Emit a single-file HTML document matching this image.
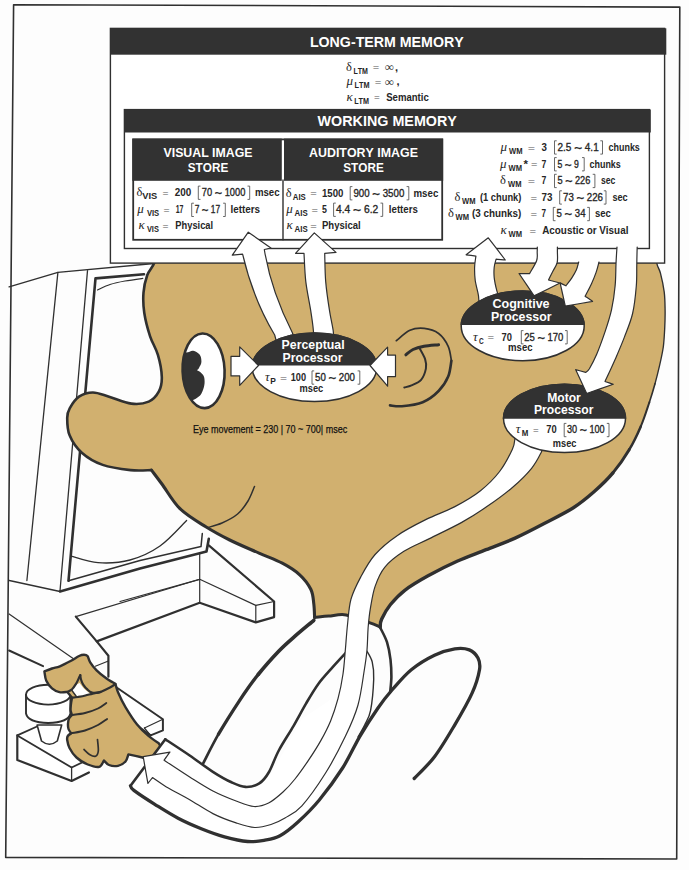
<!DOCTYPE html>
<html><head><meta charset="utf-8"><style>
html,body{margin:0;padding:0;background:#fdfdfd;}
svg{display:block;}
text{font-kerning:none;}
</style></head><body>
<svg width="689" height="870" viewBox="0 0 689 870">
<rect x="0" y="0" width="689" height="870" fill="#fdfdfd"/>
<path d="M13.6,4.7 L679.8,7.1 L676.7,859.0 L5.7,857.4 Z" fill="none" stroke="#303030" stroke-width="1.6" stroke-linejoin="round" stroke-linecap="round" />
<path d="M9.1,286.9 L57.9,272.4 L154.0,263.5" fill="none" stroke="#303030" stroke-width="1.4" stroke-linejoin="round" stroke-linecap="round" />
<path d="M57.9,272.4 L26.9,580.5" fill="none" stroke="#303030" stroke-width="1.3" stroke-linejoin="round" stroke-linecap="round" />
<path d="M87.5,270.6 L60.0,591.0" fill="none" stroke="#303030" stroke-width="1.3" stroke-linejoin="round" stroke-linecap="round" />
<path d="M9.3,580.5 L60.0,591.5" fill="none" stroke="#303030" stroke-width="1.3" stroke-linejoin="round" stroke-linecap="round" />
<path d="M144.0,274.3 L95.5,278.4 L68.5,580.8" fill="none" stroke="#303030" stroke-width="2.6" stroke-linejoin="round" stroke-linecap="round" />
<path d="M97.5,290.0 C99.6,289.1 105.4,286.0 110.0,284.5 C114.6,283.0 119.5,282.0 125.0,281.0 C130.5,280.0 139.8,278.8 142.8,278.4" fill="none" stroke="#303030" stroke-width="1.2" stroke-linejoin="round" stroke-linecap="round" />
<path d="M60.0,591.5 L140.0,568.5 L206.5,551.5 L208.8,538.8" fill="none" stroke="#303030" stroke-width="2.6" stroke-linejoin="round" stroke-linecap="round" />
<path d="M68.5,580.8 L140.0,560.5 L201.0,546.6 L202.3,533.6" fill="none" stroke="#303030" stroke-width="1.5" stroke-linejoin="round" stroke-linecap="round" />
<path d="M71.2,556.1 C75.7,557.2 88.2,562.1 98.0,562.7 C107.8,563.4 119.7,562.8 130.0,560.0 C140.3,557.2 150.6,552.6 160.0,546.0 C169.4,539.4 182.2,524.8 186.6,520.5" fill="none" stroke="#303030" stroke-width="1.3" stroke-linejoin="round" stroke-linecap="round" />
<path d="M208.8,545.3 L274.1,601.5 L274.1,617.1 L255.8,622.4 L199.7,602.8" fill="none" stroke="#303030" stroke-width="2.2" stroke-linejoin="round" stroke-linecap="round" />
<path d="M199.7,553.0 L199.7,602.8" fill="none" stroke="#303030" stroke-width="1.2" stroke-linejoin="round" stroke-linecap="round" />
<path d="M199.7,579.3 L255.8,605.4 L274.1,601.5" fill="none" stroke="#303030" stroke-width="1.2" stroke-linejoin="round" stroke-linecap="round" />
<path d="M255.8,605.4 L255.8,622.4" fill="none" stroke="#303030" stroke-width="1.2" stroke-linejoin="round" stroke-linecap="round" />
<path d="M120.0,601.5 L199.7,579.3" fill="none" stroke="#303030" stroke-width="1.2" stroke-linejoin="round" stroke-linecap="round" />
<path d="M199.7,602.8 L96.7,641.4" fill="none" stroke="#303030" stroke-width="2.2" stroke-linejoin="round" stroke-linecap="round" />
<path d="M75.8,616.6 L199.7,579.3" fill="none" stroke="#303030" stroke-width="1.2" stroke-linejoin="round" stroke-linecap="round" />
<path d="M75.8,616.6 L96.7,641.4 L108.4,655.8 L108.4,676.7" fill="none" stroke="#303030" stroke-width="2.2" stroke-linejoin="round" stroke-linecap="round" />
<path d="M95.3,666.2 L108.4,661.0" fill="none" stroke="#303030" stroke-width="1.2" stroke-linejoin="round" stroke-linecap="round" />
<path d="M9.1,614.0 L73.1,658.4" fill="none" stroke="#303030" stroke-width="1.2" stroke-linejoin="round" stroke-linecap="round" />
<path d="M9.1,650.5 L43.1,666.2" fill="none" stroke="#303030" stroke-width="2.0" stroke-linejoin="round" stroke-linecap="round" />
<path d="M17.3,735.4 L37.0,726.5 L95.0,740.0 L88.4,759.5 L88.9,772.4 L71.6,781.0 L17.3,760.0 Z" fill="#fff" stroke="none" stroke-width="0" stroke-linejoin="round" stroke-linecap="round" />
<path d="M37.0,726.5 L17.3,735.4 L71.6,767.5 L88.4,759.5" fill="none" stroke="#303030" stroke-width="1.8" stroke-linejoin="round" stroke-linecap="round" />
<path d="M17.3,735.4 L17.3,760.0 L71.6,781.0 L88.9,772.4" fill="none" stroke="#303030" stroke-width="2.2" stroke-linejoin="round" stroke-linecap="round" />
<path d="M71.6,767.5 L71.6,781.0" fill="none" stroke="#303030" stroke-width="1.3" stroke-linejoin="round" stroke-linecap="round" />
<path d="M37.1,725 L41.5,741 Q49.4,747.5 57.3,741 L61.7,725 Z" fill="#fff" stroke="#303030" stroke-width="1.6" stroke-linejoin="round" stroke-linecap="round" />
<path d="M26,694.7 L26,713.5 Q28,722.5 48.2,723 Q68.5,722.5 70.4,713.5 L70.4,694.7" fill="#fff" stroke="#303030" stroke-width="1.9" stroke-linejoin="round" stroke-linecap="round" />
<path d="M26,694.7 A22.2,9.9 0 1,0 70.4,694.7 A22.2,9.9 0 1,0 26,694.7 Z" fill="#fff" stroke="#303030" stroke-width="1.9" stroke-linejoin="round" stroke-linecap="round" />
<path d="M112.3,684.5 L162.9,719.3 L162.9,730.4 L150.6,735.4 L118.0,712.0 Z" fill="#fff" stroke="#303030" stroke-width="2.0" stroke-linejoin="round" stroke-linecap="round" />
<path d="M144.4,728.0 L162.9,719.3" fill="none" stroke="#303030" stroke-width="1.2" stroke-linejoin="round" stroke-linecap="round" />
<path d="M144.4,728.0 L150.6,735.4" fill="none" stroke="#303030" stroke-width="1.2" stroke-linejoin="round" stroke-linecap="round" />
<path d="M160.0,240.0 C159.1,243.7 156.6,256.4 154.5,262.3 C152.4,268.2 149.0,270.2 147.2,275.3 C145.4,280.4 144.0,286.4 143.5,292.7 C143.0,299.0 143.2,305.7 144.3,313.0 C145.4,320.3 147.8,329.3 150.1,336.3 C152.4,343.3 155.9,348.1 157.9,354.9 C159.9,361.7 161.6,370.8 161.8,376.9 C162.0,383.0 161.1,387.3 158.9,391.4 C156.7,395.5 153.3,399.6 148.7,401.6 C144.1,403.6 137.9,404.4 131.3,403.6 C124.7,402.8 115.5,398.6 109.1,396.7 C102.7,394.8 97.9,392.5 92.9,392.5 C87.9,392.5 82.9,394.1 79.0,396.7 C75.1,399.3 71.7,404.8 69.7,408.3 C67.7,411.8 67.2,413.4 67.2,417.9 C67.2,422.4 67.2,429.5 69.6,435.3 C72.0,441.1 76.3,447.8 81.8,452.7 C87.3,457.6 94.6,462.0 102.7,464.9 C110.8,467.8 122.5,469.2 130.6,470.1 C138.7,471.0 148.0,470.1 151.5,470.1 C153.2,472.4 157.2,477.6 161.9,484.0 C166.7,490.4 172.6,501.5 180.0,508.7 C187.4,515.9 197.9,521.8 206.2,527.0 C214.5,532.2 220.9,535.6 229.7,540.0 C238.5,544.4 250.2,549.2 259.0,553.1 C267.8,557.0 275.5,559.6 282.3,563.2 C289.1,566.8 294.9,570.4 299.7,574.8 C304.4,579.1 308.4,584.4 310.8,589.3 C313.2,594.1 313.2,599.2 313.8,603.9 C314.4,608.6 314.5,615.2 314.6,617.5 C317.0,617.3 323.4,616.5 328.7,616.1 C333.9,615.7 339.3,613.8 346.1,614.9 C352.9,616.0 363.6,620.7 369.3,622.7 C375.0,624.7 378.4,626.3 380.2,627.0 C380.4,625.7 379.9,623.0 381.6,619.3 C383.3,615.6 386.4,609.6 390.3,604.8 C394.2,600.0 398.5,595.1 404.8,590.3 C411.1,585.5 419.4,580.6 428.1,575.8 C436.8,571.0 447.4,565.6 457.1,561.3 C466.8,556.9 476.4,553.6 486.1,549.7 C495.8,545.8 505.4,542.5 515.1,538.1 C524.8,533.7 534.5,528.6 544.2,523.5 C553.9,518.4 565.0,513.0 573.4,507.7 C581.8,502.4 587.7,497.3 594.3,491.5 C600.9,485.7 607.1,479.9 612.9,472.9 C618.7,465.9 624.6,457.4 629.2,449.7 C633.9,441.9 637.4,434.3 640.8,426.4 C644.2,418.5 647.0,409.3 649.4,402.2 C651.8,395.1 653.3,389.9 655.0,383.8 C656.7,377.7 658.2,371.5 659.6,365.4 C661.0,359.3 662.4,353.1 663.3,347.0 C664.1,340.9 664.4,334.7 664.7,328.6 C665.0,322.5 665.2,316.3 665.1,310.2 C665.0,304.1 665.0,297.9 664.2,291.8 C663.4,285.7 661.7,278.1 660.5,273.4 C659.3,268.6 657.9,268.0 656.8,263.3 C655.7,258.6 656.8,249.2 654.0,245.0 C651.2,240.8 642.3,239.2 640.0,238.0 C561.7,238.0 248.3,238.0 170.0,238.0 C168.3,238.3 161.7,239.7 160.0,240.0 Z" fill="#d1b06f" stroke="none" stroke-width="0" stroke-linejoin="round" stroke-linecap="round" />
<path d="M160.0,240.0 C159.1,243.7 156.6,256.4 154.5,262.3 C152.4,268.2 149.0,270.2 147.2,275.3 C145.4,280.4 144.0,286.4 143.5,292.7 C143.0,299.0 143.2,305.7 144.3,313.0 C145.4,320.3 147.8,329.3 150.1,336.3 C152.4,343.3 155.9,348.1 157.9,354.9 C159.9,361.7 161.6,370.8 161.8,376.9 C162.0,383.0 161.1,387.3 158.9,391.4 C156.7,395.5 153.3,399.6 148.7,401.6 C144.1,403.6 137.9,404.4 131.3,403.6 C124.7,402.8 115.5,398.6 109.1,396.7 C102.7,394.8 97.9,392.5 92.9,392.5 C87.9,392.5 82.9,394.1 79.0,396.7 C75.1,399.3 71.7,404.8 69.7,408.3 C67.7,411.8 67.2,413.4 67.2,417.9 C67.2,422.4 67.2,429.5 69.6,435.3 C72.0,441.1 76.3,447.8 81.8,452.7 C87.3,457.6 94.6,462.0 102.7,464.9 C110.8,467.8 122.5,469.2 130.6,470.1 C138.7,471.0 148.0,470.1 151.5,470.1" fill="none" stroke="#303030" stroke-width="2.6" stroke-linejoin="round" stroke-linecap="round" />
<path d="M151.5,470.1 C153.2,472.4 157.2,477.6 161.9,484.0 C166.7,490.4 172.6,501.5 180.0,508.7 C187.4,515.9 197.9,521.8 206.2,527.0 C214.5,532.2 220.9,535.6 229.7,540.0 C238.5,544.4 250.2,549.2 259.0,553.1 C267.8,557.0 275.5,559.6 282.3,563.2 C289.1,566.8 294.9,570.4 299.7,574.8 C304.4,579.1 308.4,584.4 310.8,589.3 C313.2,594.1 313.2,599.2 313.8,603.9 C314.4,608.6 314.5,615.2 314.6,617.5" fill="none" stroke="#303030" stroke-width="3.1" stroke-linejoin="round" stroke-linecap="round" />
<path d="M314.6,617.5 C317.0,617.3 323.4,616.5 328.7,616.1 C333.9,615.7 339.3,613.8 346.1,614.9 C352.9,616.0 363.6,620.7 369.3,622.7 C375.0,624.7 378.4,626.3 380.2,627.0" fill="none" stroke="#303030" stroke-width="3.0" stroke-linejoin="round" stroke-linecap="round" />
<path d="M380.2,627.0 C380.4,625.7 379.9,623.0 381.6,619.3 C383.3,615.6 386.4,609.6 390.3,604.8 C394.2,600.0 398.5,595.1 404.8,590.3 C411.1,585.5 419.4,580.6 428.1,575.8 C436.8,571.0 447.4,565.6 457.1,561.3 C466.8,556.9 476.4,553.6 486.1,549.7 C495.8,545.8 505.4,542.5 515.1,538.1 C524.8,533.7 534.5,528.6 544.2,523.5 C553.9,518.4 565.0,513.0 573.4,507.7 C581.8,502.4 587.7,497.3 594.3,491.5 C600.9,485.7 607.1,479.9 612.9,472.9" fill="none" stroke="#303030" stroke-width="3.4" stroke-linejoin="round" stroke-linecap="round" />
<path d="M612.9,472.9 C618.7,465.9 624.6,457.4 629.2,449.7" fill="none" stroke="#303030" stroke-width="3.0" stroke-linejoin="round" stroke-linecap="round" />
<path d="M629.2,449.7 C633.9,441.9 637.4,434.3 640.8,426.4" fill="none" stroke="#303030" stroke-width="2.5" stroke-linejoin="round" stroke-linecap="round" />
<path d="M640.8,426.4 C644.2,418.5 647.0,409.3 649.4,402.2" fill="none" stroke="#303030" stroke-width="2.0" stroke-linejoin="round" stroke-linecap="round" />
<path d="M649.4,402.2 C651.8,395.1 653.3,389.9 655.0,383.8" fill="none" stroke="#303030" stroke-width="1.6" stroke-linejoin="round" stroke-linecap="round" />
<path d="M655.0,383.8 C656.7,377.7 658.2,371.5 659.6,365.4 C661.0,359.3 662.4,353.1 663.3,347.0 C664.1,340.9 664.4,334.7 664.7,328.6 C665.0,322.5 665.2,316.3 665.1,310.2 C665.0,304.1 665.0,297.9 664.2,291.8 C663.4,285.7 661.7,278.1 660.5,273.4 C659.3,268.6 657.9,268.0 656.8,263.3 C655.7,258.6 656.8,249.2 654.0,245.0" fill="none" stroke="#303030" stroke-width="1.35" stroke-linejoin="round" stroke-linecap="round" />
<path d="M208.0,527.5 C210.3,526.8 217.1,525.2 222.0,523.0 C226.9,520.8 233.3,517.7 237.6,514.0 C241.9,510.3 245.2,505.6 248.0,501.0 C250.8,496.4 253.4,488.9 254.5,486.5" fill="none" stroke="#303030" stroke-width="1.5" stroke-linejoin="round" stroke-linecap="round" />
<rect x="110.4" y="28.4" width="554.2" height="234.7" fill="#fff" stroke="#303030" stroke-width="1.4"/>
<rect x="110.2" y="28.3" width="556.1" height="26.4" fill="#323232"/>
<rect x="124.4" y="109.6" width="525" height="138.9" fill="#fff" stroke="#303030" stroke-width="1.4"/>
<rect x="124.2" y="109.5" width="526.6" height="23.0" fill="#323232"/>
<rect x="133.2" y="139.4" width="309" height="100.4" fill="#fff" stroke="#303030" stroke-width="1.8"/>
<rect x="132.3" y="138.6" width="149.5" height="42.2" fill="#323232"/>
<rect x="284" y="138.6" width="159.2" height="42.2" fill="#323232"/>
<path d="M283.0,180.0 L283.0,239.8" fill="none" stroke="#303030" stroke-width="1.4" stroke-linejoin="round" stroke-linecap="round" />
<text x="309.9" y="46.6" font-family="'Liberation Sans', sans-serif" font-size="14.9" font-weight="bold" font-style="normal" fill="#fff" text-anchor="start" textLength="153.8" lengthAdjust="spacingAndGlyphs" >LONG-TERM MEMORY</text>
<text x="317.6" y="126.0" font-family="'Liberation Sans', sans-serif" font-size="14.9" font-weight="bold" font-style="normal" fill="#fff" text-anchor="start" textLength="139.3" lengthAdjust="spacingAndGlyphs" >WORKING MEMORY</text>
<text x="208.0" y="157.2" font-family="'Liberation Sans', sans-serif" font-size="12.3" font-weight="bold" font-style="normal" fill="#fff" text-anchor="middle" textLength="89.0" lengthAdjust="spacingAndGlyphs" >VISUAL IMAGE</text>
<text x="208.0" y="171.8" font-family="'Liberation Sans', sans-serif" font-size="12.3" font-weight="bold" font-style="normal" fill="#fff" text-anchor="middle" textLength="40.5" lengthAdjust="spacingAndGlyphs" >STORE</text>
<text x="363.5" y="157.2" font-family="'Liberation Sans', sans-serif" font-size="12.3" font-weight="bold" font-style="normal" fill="#fff" text-anchor="middle" textLength="109.0" lengthAdjust="spacingAndGlyphs" >AUDITORY IMAGE</text>
<text x="363.5" y="171.8" font-family="'Liberation Sans', sans-serif" font-size="12.3" font-weight="bold" font-style="normal" fill="#fff" text-anchor="middle" textLength="40.5" lengthAdjust="spacingAndGlyphs" >STORE</text>
<text x="346.1" y="70.6" font-family="'Liberation Serif', serif" font-size="12.5" font-weight="normal" font-style="normal" fill="#262626" text-anchor="start" >δ</text>
<text x="353.4" y="73.6" font-family="'Liberation Sans', sans-serif" font-size="8.2" font-weight="bold" font-style="normal" fill="#262626" text-anchor="start" textLength="14.5" lengthAdjust="spacingAndGlyphs" >LTM</text>
<text x="372.7" y="70.3" font-family="'Liberation Sans', sans-serif" font-size="9.5" font-weight="normal" font-style="normal" fill="#555" text-anchor="start" textLength="6.5" lengthAdjust="spacingAndGlyphs" >=</text>
<text x="384.7" y="71.1" font-family="'Liberation Serif', serif" font-size="12.0" font-weight="normal" font-style="normal" fill="#262626" text-anchor="start" textLength="9.3" lengthAdjust="spacingAndGlyphs" >∞</text>
<text x="395.0" y="70.6" font-family="'Liberation Sans', sans-serif" font-size="11.0" font-weight="bold" font-style="normal" fill="#262626" text-anchor="start" >,</text>
<text x="346.5" y="85.2" font-family="'Liberation Serif', serif" font-size="13.0" font-weight="normal" font-style="italic" fill="#262626" text-anchor="start" >μ</text>
<text x="354.5" y="88.2" font-family="'Liberation Sans', sans-serif" font-size="8.2" font-weight="bold" font-style="normal" fill="#262626" text-anchor="start" textLength="15.0" lengthAdjust="spacingAndGlyphs" >LTM</text>
<text x="374.8" y="84.9" font-family="'Liberation Sans', sans-serif" font-size="9.5" font-weight="normal" font-style="normal" fill="#555" text-anchor="start" textLength="6.6" lengthAdjust="spacingAndGlyphs" >=</text>
<text x="384.7" y="85.7" font-family="'Liberation Serif', serif" font-size="12.0" font-weight="normal" font-style="normal" fill="#262626" text-anchor="start" textLength="9.3" lengthAdjust="spacingAndGlyphs" >∞</text>
<text x="396.4" y="85.2" font-family="'Liberation Sans', sans-serif" font-size="11.0" font-weight="bold" font-style="normal" fill="#262626" text-anchor="start" >,</text>
<text x="346.5" y="100.6" font-family="'Liberation Serif', serif" font-size="13.0" font-weight="normal" font-style="italic" fill="#262626" text-anchor="start" >κ</text>
<text x="354.2" y="103.6" font-family="'Liberation Sans', sans-serif" font-size="8.2" font-weight="bold" font-style="normal" fill="#262626" text-anchor="start" textLength="14.8" lengthAdjust="spacingAndGlyphs" >LTM</text>
<text x="374.1" y="100.3" font-family="'Liberation Sans', sans-serif" font-size="9.5" font-weight="normal" font-style="normal" fill="#555" text-anchor="start" textLength="5.8" lengthAdjust="spacingAndGlyphs" >=</text>
<text x="386.2" y="100.6" font-family="'Liberation Sans', sans-serif" font-size="11.0" font-weight="bold" font-style="normal" fill="#262626" text-anchor="start" textLength="42.6" lengthAdjust="spacingAndGlyphs" >Semantic</text>
<text x="136.5" y="196.1" font-family="'Liberation Serif', serif" font-size="12.5" font-weight="normal" font-style="normal" fill="#262626" text-anchor="start" >δ</text>
<text x="142.3" y="199.1" font-family="'Liberation Sans', sans-serif" font-size="8.2" font-weight="bold" font-style="normal" fill="#262626" text-anchor="start" textLength="15.0" lengthAdjust="spacingAndGlyphs" >VIS</text>
<text x="162.6" y="195.8" font-family="'Liberation Sans', sans-serif" font-size="9.5" font-weight="normal" font-style="normal" fill="#555" text-anchor="start" textLength="6.0" lengthAdjust="spacingAndGlyphs" >=</text>
<text x="174.8" y="196.1" font-family="'Liberation Sans', sans-serif" font-size="11.0" font-weight="bold" font-style="normal" fill="#262626" text-anchor="start" textLength="16.5" lengthAdjust="spacingAndGlyphs" >200</text>
<path d="M200.1,186.1 L198.3,186.1 L198.3,199.4 L200.1,199.4" fill="none" stroke="#444" stroke-width="0.8" stroke-linejoin="round" stroke-linecap="round" stroke-linecap="butt" stroke-linejoin="miter"/>
<text x="201.8" y="196.1" font-family="'Liberation Sans', sans-serif" font-size="11.0" fill="#262626" stroke="#262626" stroke-width="0.35" textLength="43.5" lengthAdjust="spacingAndGlyphs">70 <tspan font-size="15" dy="2.0">~</tspan><tspan dy="-2.0"> 1000</tspan></text>
<path d="M247.9,186.1 L249.7,186.1 L249.7,199.4 L247.9,199.4" fill="none" stroke="#444" stroke-width="0.8" stroke-linejoin="round" stroke-linecap="round" stroke-linecap="butt" stroke-linejoin="miter"/>
<text x="254.9" y="196.1" font-family="'Liberation Sans', sans-serif" font-size="11.0" font-weight="bold" font-style="normal" fill="#262626" text-anchor="start" textLength="24.7" lengthAdjust="spacingAndGlyphs" >msec</text>
<text x="137.3" y="213.2" font-family="'Liberation Serif', serif" font-size="13.0" font-weight="normal" font-style="italic" fill="#262626" text-anchor="start" >μ</text>
<text x="146.9" y="216.2" font-family="'Liberation Sans', sans-serif" font-size="8.2" font-weight="bold" font-style="normal" fill="#262626" text-anchor="start" textLength="12.3" lengthAdjust="spacingAndGlyphs" >VIS</text>
<text x="163.5" y="212.9" font-family="'Liberation Sans', sans-serif" font-size="9.5" font-weight="normal" font-style="normal" fill="#555" text-anchor="start" textLength="6.1" lengthAdjust="spacingAndGlyphs" >=</text>
<text x="175.7" y="213.2" font-family="'Liberation Sans', sans-serif" font-size="11.0" font-weight="bold" font-style="normal" fill="#262626" text-anchor="start" textLength="7.8" lengthAdjust="spacingAndGlyphs" >17</text>
<path d="M193.5,203.2 L191.7,203.2 L191.7,216.5 L193.5,216.5" fill="none" stroke="#444" stroke-width="0.8" stroke-linejoin="round" stroke-linecap="round" stroke-linecap="butt" stroke-linejoin="miter"/>
<text x="194.8" y="213.2" font-family="'Liberation Sans', sans-serif" font-size="11.0" fill="#262626" stroke="#262626" stroke-width="0.35" textLength="25.3" lengthAdjust="spacingAndGlyphs">7 <tspan font-size="15" dy="2.0">~</tspan><tspan dy="-2.0"> 17</tspan></text>
<path d="M223.5,203.2 L225.3,203.2 L225.3,216.5 L223.5,216.5" fill="none" stroke="#444" stroke-width="0.8" stroke-linejoin="round" stroke-linecap="round" stroke-linecap="butt" stroke-linejoin="miter"/>
<text x="230.5" y="213.2" font-family="'Liberation Sans', sans-serif" font-size="11.0" font-weight="bold" font-style="normal" fill="#262626" text-anchor="start" textLength="29.6" lengthAdjust="spacingAndGlyphs" >letters</text>
<text x="138.5" y="228.9" font-family="'Liberation Serif', serif" font-size="13.0" font-weight="normal" font-style="italic" fill="#262626" text-anchor="start" >κ</text>
<text x="146.9" y="231.9" font-family="'Liberation Sans', sans-serif" font-size="8.2" font-weight="bold" font-style="normal" fill="#262626" text-anchor="start" textLength="12.0" lengthAdjust="spacingAndGlyphs" >VIS</text>
<text x="162.6" y="228.6" font-family="'Liberation Sans', sans-serif" font-size="9.5" font-weight="normal" font-style="normal" fill="#555" text-anchor="start" textLength="6.0" lengthAdjust="spacingAndGlyphs" >=</text>
<text x="175.3" y="228.9" font-family="'Liberation Sans', sans-serif" font-size="11.0" font-weight="bold" font-style="normal" fill="#262626" text-anchor="start" textLength="37.8" lengthAdjust="spacingAndGlyphs" >Physical</text>
<text x="285.8" y="196.6" font-family="'Liberation Serif', serif" font-size="12.5" font-weight="normal" font-style="normal" fill="#262626" text-anchor="start" >δ</text>
<text x="292.8" y="199.6" font-family="'Liberation Sans', sans-serif" font-size="8.2" font-weight="bold" font-style="normal" fill="#262626" text-anchor="start" textLength="13.0" lengthAdjust="spacingAndGlyphs" >AIS</text>
<text x="310.3" y="196.3" font-family="'Liberation Sans', sans-serif" font-size="9.5" font-weight="normal" font-style="normal" fill="#555" text-anchor="start" textLength="6.5" lengthAdjust="spacingAndGlyphs" >=</text>
<text x="322.0" y="196.6" font-family="'Liberation Sans', sans-serif" font-size="11.0" font-weight="bold" font-style="normal" fill="#262626" text-anchor="start" textLength="21.4" lengthAdjust="spacingAndGlyphs" >1500</text>
<path d="M352.0,186.6 L350.2,186.6 L350.2,199.9 L352.0,199.9" fill="none" stroke="#444" stroke-width="0.8" stroke-linejoin="round" stroke-linecap="round" stroke-linecap="butt" stroke-linejoin="miter"/>
<text x="353.4" y="196.6" font-family="'Liberation Sans', sans-serif" font-size="11.0" fill="#262626" stroke="#262626" stroke-width="0.35" textLength="50.9" lengthAdjust="spacingAndGlyphs">900 <tspan font-size="15" dy="2.0">~</tspan><tspan dy="-2.0"> 3500</tspan></text>
<path d="M407.0,186.6 L408.8,186.6 L408.8,199.9 L407.0,199.9" fill="none" stroke="#444" stroke-width="0.8" stroke-linejoin="round" stroke-linecap="round" stroke-linecap="butt" stroke-linejoin="miter"/>
<text x="413.5" y="196.6" font-family="'Liberation Sans', sans-serif" font-size="11.0" font-weight="bold" font-style="normal" fill="#262626" text-anchor="start" textLength="24.8" lengthAdjust="spacingAndGlyphs" >msec</text>
<text x="286.3" y="213.1" font-family="'Liberation Serif', serif" font-size="13.0" font-weight="normal" font-style="italic" fill="#262626" text-anchor="start" >μ</text>
<text x="294.6" y="216.1" font-family="'Liberation Sans', sans-serif" font-size="8.2" font-weight="bold" font-style="normal" fill="#262626" text-anchor="start" textLength="13.1" lengthAdjust="spacingAndGlyphs" >AIS</text>
<text x="311.6" y="212.8" font-family="'Liberation Sans', sans-serif" font-size="9.5" font-weight="normal" font-style="normal" fill="#555" text-anchor="start" textLength="6.5" lengthAdjust="spacingAndGlyphs" >=</text>
<text x="322.1" y="213.1" font-family="'Liberation Sans', sans-serif" font-size="11.0" font-weight="bold" font-style="normal" fill="#262626" text-anchor="start" textLength="4.9" lengthAdjust="spacingAndGlyphs" >5</text>
<path d="M335.4,203.1 L333.6,203.1 L333.6,216.4 L335.4,216.4" fill="none" stroke="#444" stroke-width="0.8" stroke-linejoin="round" stroke-linecap="round" stroke-linecap="butt" stroke-linejoin="miter"/>
<text x="336.0" y="213.1" font-family="'Liberation Sans', sans-serif" font-size="11.0" fill="#262626" stroke="#262626" stroke-width="0.35" textLength="42.3" lengthAdjust="spacingAndGlyphs">4.4 <tspan font-size="15" dy="2.0">~</tspan><tspan dy="-2.0"> 6.2</tspan></text>
<path d="M380.9,203.1 L382.7,203.1 L382.7,216.4 L380.9,216.4" fill="none" stroke="#444" stroke-width="0.8" stroke-linejoin="round" stroke-linecap="round" stroke-linecap="butt" stroke-linejoin="miter"/>
<text x="388.8" y="213.1" font-family="'Liberation Sans', sans-serif" font-size="11.0" font-weight="bold" font-style="normal" fill="#262626" text-anchor="start" textLength="29.1" lengthAdjust="spacingAndGlyphs" >letters</text>
<text x="286.5" y="228.8" font-family="'Liberation Serif', serif" font-size="13.0" font-weight="normal" font-style="italic" fill="#262626" text-anchor="start" >κ</text>
<text x="294.6" y="231.8" font-family="'Liberation Sans', sans-serif" font-size="8.2" font-weight="bold" font-style="normal" fill="#262626" text-anchor="start" textLength="13.1" lengthAdjust="spacingAndGlyphs" >AIS</text>
<text x="310.3" y="228.5" font-family="'Liberation Sans', sans-serif" font-size="9.5" font-weight="normal" font-style="normal" fill="#555" text-anchor="start" textLength="6.5" lengthAdjust="spacingAndGlyphs" >=</text>
<text x="322.0" y="228.8" font-family="'Liberation Sans', sans-serif" font-size="11.0" font-weight="bold" font-style="normal" fill="#262626" text-anchor="start" textLength="38.7" lengthAdjust="spacingAndGlyphs" >Physical</text>
<text x="500.5" y="150.8" font-family="'Liberation Serif', serif" font-size="13.0" font-weight="normal" font-style="italic" fill="#262626" text-anchor="start" >μ</text>
<text x="509.0" y="153.8" font-family="'Liberation Sans', sans-serif" font-size="8.2" font-weight="bold" font-style="normal" fill="#262626" text-anchor="start" textLength="13.5" lengthAdjust="spacingAndGlyphs" >WM</text>
<text x="527.8" y="150.5" font-family="'Liberation Sans', sans-serif" font-size="9.5" font-weight="normal" font-style="normal" fill="#555" text-anchor="start" textLength="7.3" lengthAdjust="spacingAndGlyphs" >=</text>
<text x="541.5" y="150.8" font-family="'Liberation Sans', sans-serif" font-size="11.0" font-weight="bold" font-style="normal" fill="#262626" text-anchor="start" textLength="5.4" lengthAdjust="spacingAndGlyphs" >3</text>
<path d="M556.3,140.8 L554.5,140.8 L554.5,154.1 L556.3,154.1" fill="none" stroke="#444" stroke-width="0.8" stroke-linejoin="round" stroke-linecap="round" stroke-linecap="butt" stroke-linejoin="miter"/>
<text x="557.5" y="150.8" font-family="'Liberation Sans', sans-serif" font-size="11.0" fill="#262626" stroke="#262626" stroke-width="0.35" textLength="41.2" lengthAdjust="spacingAndGlyphs">2.5 <tspan font-size="15" dy="2.0">~</tspan><tspan dy="-2.0"> 4.1</tspan></text>
<path d="M600.7,140.8 L602.5,140.8 L602.5,154.1 L600.7,154.1" fill="none" stroke="#444" stroke-width="0.8" stroke-linejoin="round" stroke-linecap="round" stroke-linecap="butt" stroke-linejoin="miter"/>
<text x="608.6" y="150.8" font-family="'Liberation Sans', sans-serif" font-size="11.0" font-weight="bold" font-style="normal" fill="#262626" text-anchor="start" textLength="31.2" lengthAdjust="spacingAndGlyphs" >chunks</text>
<text x="500.0" y="167.6" font-family="'Liberation Serif', serif" font-size="13.0" font-weight="normal" font-style="italic" fill="#262626" text-anchor="start" >μ</text>
<text x="508.5" y="170.6" font-family="'Liberation Sans', sans-serif" font-size="8.2" font-weight="bold" font-style="normal" fill="#262626" text-anchor="start" textLength="13.5" lengthAdjust="spacingAndGlyphs" >WM</text>
<text x="523.5" y="167.6" font-family="'Liberation Sans', sans-serif" font-size="11.0" font-weight="bold" font-style="normal" fill="#262626" text-anchor="start" textLength="4.5" lengthAdjust="spacingAndGlyphs" >*</text>
<text x="531.0" y="167.3" font-family="'Liberation Sans', sans-serif" font-size="9.5" font-weight="normal" font-style="normal" fill="#555" text-anchor="start" textLength="6.4" lengthAdjust="spacingAndGlyphs" >=</text>
<text x="541.5" y="167.6" font-family="'Liberation Sans', sans-serif" font-size="11.0" font-weight="bold" font-style="normal" fill="#262626" text-anchor="start" textLength="4.8" lengthAdjust="spacingAndGlyphs" >7</text>
<path d="M556.3,157.6 L554.5,157.6 L554.5,170.9 L556.3,170.9" fill="none" stroke="#444" stroke-width="0.8" stroke-linejoin="round" stroke-linecap="round" stroke-linecap="butt" stroke-linejoin="miter"/>
<text x="557.5" y="167.6" font-family="'Liberation Sans', sans-serif" font-size="11.0" fill="#262626" stroke="#262626" stroke-width="0.35" textLength="21.4" lengthAdjust="spacingAndGlyphs">5 <tspan font-size="15" dy="2.0">~</tspan><tspan dy="-2.0"> 9</tspan></text>
<path d="M582.4,157.6 L584.2,157.6 L584.2,170.9 L582.4,170.9" fill="none" stroke="#444" stroke-width="0.8" stroke-linejoin="round" stroke-linecap="round" stroke-linecap="butt" stroke-linejoin="miter"/>
<text x="589.5" y="167.6" font-family="'Liberation Sans', sans-serif" font-size="11.0" font-weight="bold" font-style="normal" fill="#262626" text-anchor="start" textLength="31.3" lengthAdjust="spacingAndGlyphs" >chunks</text>
<text x="500.0" y="184.3" font-family="'Liberation Serif', serif" font-size="12.5" font-weight="normal" font-style="normal" fill="#262626" text-anchor="start" >δ</text>
<text x="508.0" y="187.3" font-family="'Liberation Sans', sans-serif" font-size="8.2" font-weight="bold" font-style="normal" fill="#262626" text-anchor="start" textLength="13.5" lengthAdjust="spacingAndGlyphs" >WM</text>
<text x="527.8" y="184.0" font-family="'Liberation Sans', sans-serif" font-size="9.5" font-weight="normal" font-style="normal" fill="#555" text-anchor="start" textLength="7.3" lengthAdjust="spacingAndGlyphs" >=</text>
<text x="541.5" y="184.3" font-family="'Liberation Sans', sans-serif" font-size="11.0" font-weight="bold" font-style="normal" fill="#262626" text-anchor="start" textLength="4.8" lengthAdjust="spacingAndGlyphs" >7</text>
<path d="M556.3,174.3 L554.5,174.3 L554.5,187.6 L556.3,187.6" fill="none" stroke="#444" stroke-width="0.8" stroke-linejoin="round" stroke-linecap="round" stroke-linecap="butt" stroke-linejoin="miter"/>
<text x="557.5" y="184.3" font-family="'Liberation Sans', sans-serif" font-size="11.0" fill="#262626" stroke="#262626" stroke-width="0.35" textLength="32.8" lengthAdjust="spacingAndGlyphs">5 <tspan font-size="15" dy="2.0">~</tspan><tspan dy="-2.0"> 226</tspan></text>
<path d="M593.1,174.3 L594.9,174.3 L594.9,187.6 L593.1,187.6" fill="none" stroke="#444" stroke-width="0.8" stroke-linejoin="round" stroke-linecap="round" stroke-linecap="butt" stroke-linejoin="miter"/>
<text x="601.0" y="184.3" font-family="'Liberation Sans', sans-serif" font-size="11.0" font-weight="bold" font-style="normal" fill="#262626" text-anchor="start" textLength="14.4" lengthAdjust="spacingAndGlyphs" >sec</text>
<text x="454.4" y="200.8" font-family="'Liberation Serif', serif" font-size="12.5" font-weight="normal" font-style="normal" fill="#262626" text-anchor="start" >δ</text>
<text x="462.0" y="203.8" font-family="'Liberation Sans', sans-serif" font-size="8.2" font-weight="bold" font-style="normal" fill="#262626" text-anchor="start" textLength="13.5" lengthAdjust="spacingAndGlyphs" >WM</text>
<text x="479.9" y="200.8" font-family="'Liberation Sans', sans-serif" font-size="11.0" font-weight="bold" font-style="normal" fill="#262626" text-anchor="start" textLength="41.5" lengthAdjust="spacingAndGlyphs" >(1 chunk)</text>
<text x="530.4" y="200.5" font-family="'Liberation Sans', sans-serif" font-size="9.5" font-weight="normal" font-style="normal" fill="#555" text-anchor="start" textLength="6.6" lengthAdjust="spacingAndGlyphs" >=</text>
<text x="541.5" y="200.8" font-family="'Liberation Sans', sans-serif" font-size="11.0" font-weight="bold" font-style="normal" fill="#262626" text-anchor="start" textLength="10.9" lengthAdjust="spacingAndGlyphs" >73</text>
<path d="M561.5,190.8 L559.7,190.8 L559.7,204.1 L561.5,204.1" fill="none" stroke="#444" stroke-width="0.8" stroke-linejoin="round" stroke-linecap="round" stroke-linecap="butt" stroke-linejoin="miter"/>
<text x="563.0" y="200.8" font-family="'Liberation Sans', sans-serif" font-size="11.0" fill="#262626" stroke="#262626" stroke-width="0.35" textLength="40.0" lengthAdjust="spacingAndGlyphs">73 <tspan font-size="15" dy="2.0">~</tspan><tspan dy="-2.0"> 226</tspan></text>
<path d="M604.2,190.8 L606.0,190.8 L606.0,204.1 L604.2,204.1" fill="none" stroke="#444" stroke-width="0.8" stroke-linejoin="round" stroke-linecap="round" stroke-linecap="butt" stroke-linejoin="miter"/>
<text x="612.4" y="200.8" font-family="'Liberation Sans', sans-serif" font-size="11.0" font-weight="bold" font-style="normal" fill="#262626" text-anchor="start" textLength="15.3" lengthAdjust="spacingAndGlyphs" >sec</text>
<text x="448.0" y="217.4" font-family="'Liberation Serif', serif" font-size="12.5" font-weight="normal" font-style="normal" fill="#262626" text-anchor="start" >δ</text>
<text x="455.6" y="220.4" font-family="'Liberation Sans', sans-serif" font-size="8.2" font-weight="bold" font-style="normal" fill="#262626" text-anchor="start" textLength="13.5" lengthAdjust="spacingAndGlyphs" >WM</text>
<text x="472.0" y="217.4" font-family="'Liberation Sans', sans-serif" font-size="11.0" font-weight="bold" font-style="normal" fill="#262626" text-anchor="start" textLength="49.4" lengthAdjust="spacingAndGlyphs" >(3 chunks)</text>
<text x="530.4" y="217.1" font-family="'Liberation Sans', sans-serif" font-size="9.5" font-weight="normal" font-style="normal" fill="#555" text-anchor="start" textLength="6.6" lengthAdjust="spacingAndGlyphs" >=</text>
<text x="541.5" y="217.4" font-family="'Liberation Sans', sans-serif" font-size="11.0" font-weight="bold" font-style="normal" fill="#262626" text-anchor="start" textLength="4.5" lengthAdjust="spacingAndGlyphs" >7</text>
<path d="M555.1,207.4 L553.3,207.4 L553.3,220.7 L555.1,220.7" fill="none" stroke="#444" stroke-width="0.8" stroke-linejoin="round" stroke-linecap="round" stroke-linecap="butt" stroke-linejoin="miter"/>
<text x="556.5" y="217.4" font-family="'Liberation Sans', sans-serif" font-size="11.0" fill="#262626" stroke="#262626" stroke-width="0.35" textLength="29.0" lengthAdjust="spacingAndGlyphs">5 <tspan font-size="15" dy="2.0">~</tspan><tspan dy="-2.0"> 34</tspan></text>
<path d="M587.6,207.4 L589.4,207.4 L589.4,220.7 L587.6,220.7" fill="none" stroke="#444" stroke-width="0.8" stroke-linejoin="round" stroke-linecap="round" stroke-linecap="butt" stroke-linejoin="miter"/>
<text x="594.9" y="217.4" font-family="'Liberation Sans', sans-serif" font-size="11.0" font-weight="bold" font-style="normal" fill="#262626" text-anchor="start" textLength="15.9" lengthAdjust="spacingAndGlyphs" >sec</text>
<text x="500.5" y="234.4" font-family="'Liberation Serif', serif" font-size="13.0" font-weight="normal" font-style="italic" fill="#262626" text-anchor="start" >κ</text>
<text x="508.5" y="237.4" font-family="'Liberation Sans', sans-serif" font-size="8.2" font-weight="bold" font-style="normal" fill="#262626" text-anchor="start" textLength="13.5" lengthAdjust="spacingAndGlyphs" >WM</text>
<text x="529.4" y="234.1" font-family="'Liberation Sans', sans-serif" font-size="9.5" font-weight="normal" font-style="normal" fill="#555" text-anchor="start" textLength="6.6" lengthAdjust="spacingAndGlyphs" >=</text>
<text x="542.2" y="234.4" font-family="'Liberation Sans', sans-serif" font-size="11.0" font-weight="bold" font-style="normal" fill="#262626" text-anchor="start" textLength="86.2" lengthAdjust="spacingAndGlyphs" >Acoustic or Visual</text>
<path d="M44.4,671.4 C45.7,670.9 49.4,669.4 52.0,668.5 C54.6,667.6 56.7,667.6 59.9,666.3 C63.1,665.0 67.9,662.5 71.1,660.8 C74.3,659.1 76.9,657.0 79.1,656.0 C81.2,655.0 82.6,654.8 84.0,654.8 C85.4,654.8 86.5,654.8 87.5,656.0 C88.5,657.2 88.7,659.9 90.2,662.3 C91.7,664.7 93.9,667.6 96.6,670.3 C99.3,673.0 103.5,676.3 106.2,678.3 C108.9,680.3 111.0,681.3 112.6,682.3 C114.1,683.2 115.0,683.7 115.5,684.0 C115.9,685.4 116.3,688.3 118.0,692.2 C119.7,696.1 122.4,702.0 125.6,707.3 C128.8,712.6 133.1,719.5 136.9,724.2 C140.7,728.9 144.6,732.5 148.2,735.6 C151.8,738.8 156.9,741.9 158.6,743.1 C159.3,744.2 162.3,748.9 163.0,750.0 C160.8,751.7 152.2,758.3 150.0,760.0 C148.8,759.6 143.8,757.9 142.5,757.5 C140.2,757.0 130.8,754.9 128.4,754.4 C127.9,755.6 127.2,759.6 125.5,761.5 C123.8,763.4 120.8,765.2 118.0,765.8 C115.2,766.4 111.3,765.9 109.0,765.0 C106.7,764.1 104.8,761.2 103.9,760.5 C103.1,761.5 101.9,766.1 99.2,766.8 C96.5,767.5 91.6,766.0 87.8,764.5 C84.0,763.0 79.5,760.2 76.5,757.5 C73.5,754.8 71.0,750.9 69.5,748.0 C68.0,745.1 67.5,742.0 67.2,740.0 C66.9,738.0 67.1,737.1 67.8,736.0 C68.5,734.9 70.6,733.8 71.2,733.3 C70.8,732.6 69.0,730.6 68.5,729.0 C68.0,727.4 67.9,725.2 68.0,723.5 C68.1,721.8 68.3,719.9 69.0,718.5 C69.7,717.1 71.5,715.6 72.0,715.0 C71.8,714.2 70.8,712.2 70.6,710.5 C70.4,708.8 70.7,706.6 70.9,704.5 C71.1,702.4 71.8,698.8 72.0,697.7 C71.2,696.7 68.1,692.9 67.3,691.9 C66.0,692.0 62.0,692.8 59.5,692.2 C57.0,691.6 54.2,690.3 52.0,688.4 C49.8,686.5 47.6,683.6 46.3,680.8 C45.0,678.0 44.7,673.0 44.4,671.4 Z" fill="#d1b06f" stroke="#303030" stroke-width="2.4" stroke-linejoin="round" stroke-linecap="round" />
<path d="M71.6,690.0 C72.3,689.2 74.7,686.1 76.0,685.0 C77.3,683.9 79.0,683.4 79.6,683.1 C80.3,684.0 82.2,686.7 84.0,688.5 C85.8,690.3 89.4,693.1 90.5,694.0 C89.2,694.3 85.3,695.5 83.0,696.0 C80.7,696.5 77.8,696.8 76.7,697.0 C75.8,695.8 72.4,691.2 71.6,690.0 Z" fill="#fff" stroke="none" stroke-width="0" stroke-linejoin="round" stroke-linecap="round" />
<path d="M67.3,691.9 C68.0,691.5 70.1,691.0 71.6,689.7 C73.0,688.4 74.8,685.9 76.0,683.9 C77.2,681.9 78.2,679.5 78.9,678.0 C79.6,676.5 80.1,675.7 80.3,675.2" fill="none" stroke="#303030" stroke-width="2.2" stroke-linejoin="round" stroke-linecap="round" />
<path d="M80.3,675.2 C80.4,675.9 80.5,677.9 81.0,679.5 C81.5,681.1 82.1,682.9 83.2,684.6 C84.3,686.3 86.1,688.4 87.6,689.7 C89.0,691.0 90.5,692.1 91.9,692.6 C93.4,693.1 94.8,693.0 96.3,692.9 C97.8,692.8 98.3,692.8 100.6,691.9 C102.9,691.0 107.5,688.8 110.0,687.5 C112.5,686.2 114.6,684.6 115.5,684.0" fill="none" stroke="#303030" stroke-width="2.2" stroke-linejoin="round" stroke-linecap="round" />
<path d="M72.0,697.7 C73.0,697.6 75.8,697.4 78.0,697.0 C80.2,696.6 83.0,696.1 85.4,695.5 C87.9,694.9 90.2,694.2 92.7,693.6 C95.2,693.0 99.3,692.2 100.6,691.9" fill="none" stroke="#303030" stroke-width="2.2" stroke-linejoin="round" stroke-linecap="round" />
<path d="M71.6,690.0 L76.7,697.0" fill="none" stroke="#303030" stroke-width="1.4" stroke-linejoin="round" stroke-linecap="round" />
<path d="M72.0,715.0 C74.2,714.7 80.7,714.1 85.0,713.0 C89.3,711.9 94.5,710.2 98.0,708.5 C101.5,706.8 104.9,703.9 106.3,703.0" fill="none" stroke="#303030" stroke-width="1.9" stroke-linejoin="round" stroke-linecap="round" />
<path d="M71.2,733.3 C73.5,732.8 80.5,731.9 85.0,730.5 C89.5,729.1 94.3,726.9 98.0,725.0 C101.7,723.1 105.6,720.0 107.1,719.0" fill="none" stroke="#303030" stroke-width="1.9" stroke-linejoin="round" stroke-linecap="round" />
<path d="M84.0,749.5 C84.9,750.3 87.6,753.4 89.5,754.5 C91.4,755.6 94.0,756.9 95.5,756.3 C97.0,755.7 98.0,753.8 98.3,751.0 C98.6,748.2 97.6,741.4 97.5,739.5" fill="none" stroke="#303030" stroke-width="1.7" stroke-linejoin="round" stroke-linecap="round" />
<path d="M165.3,739.3 L189.7,755.5 L212.9,771.8 L231.5,782.3 L245.4,786.9 L259.3,783.4 L271.0,774.1 L284.5,750.6 L301.9,718.7 L330.0,700.0 L340.0,760.0 L298.0,822.0 L280.0,835.7 L264.0,840.3 L247.7,841.5 L224.5,836.8 L201.3,828.7 L178.1,818.2 L154.8,804.3 L133.9,790.4 L130.5,785.7 Z" fill="#fff" stroke="none" stroke-width="0" stroke-linejoin="round" stroke-linecap="round" />
<path d="M130.5,785.7 C131.1,786.5 129.8,787.3 133.9,790.4 C138.0,793.5 147.4,799.7 154.8,804.3 C162.2,808.9 170.3,814.1 178.1,818.2 C185.8,822.3 193.6,825.6 201.3,828.7 C209.0,831.8 216.8,834.7 224.5,836.8 C232.2,838.9 241.1,840.9 247.7,841.5 C254.3,842.1 258.6,841.3 264.0,840.3 C269.4,839.3 274.3,838.8 280.0,835.7 C285.7,832.7 291.4,828.0 298.0,822.0 C304.6,816.0 311.9,809.0 319.3,800.0 C326.7,791.0 335.8,778.6 342.6,768.0 C349.4,757.4 354.1,746.1 360.0,736.1 C365.9,726.1 372.7,715.7 378.0,708.0 C383.3,700.3 386.4,696.4 392.0,690.0 C397.6,683.6 404.2,675.5 411.3,669.7 C418.4,663.9 427.2,658.7 434.5,655.2 C441.8,651.7 449.0,649.7 454.8,648.8 C460.6,647.9 465.4,648.3 469.3,649.9 C473.2,651.5 476.3,654.8 478.0,658.1 C479.7,661.4 480.5,663.9 479.5,669.7 C478.5,675.5 476.3,683.7 472.2,692.9 C468.1,702.1 461.1,714.2 454.8,724.8 C448.5,735.4 441.3,747.8 434.5,756.7 C427.7,765.7 417.6,774.9 414.2,778.5" fill="none" stroke="#303030" stroke-width="3.3" stroke-linejoin="round" stroke-linecap="round" />
<path d="M165.3,739.3 L130.5,785.7" fill="none" stroke="#303030" stroke-width="2.6" stroke-linejoin="round" stroke-linecap="round" />
<path d="M165.3,739.3 C169.4,742.0 181.8,750.1 189.7,755.5 C197.6,760.9 205.9,767.3 212.9,771.8 C219.9,776.3 226.1,779.8 231.5,782.3 C236.9,784.8 240.8,786.7 245.4,786.9 C250.0,787.1 255.4,785.9 259.3,783.4 C263.2,780.9 265.8,777.5 269.0,772.0 C272.2,766.5 274.7,758.2 278.8,750.5 C282.9,742.8 289.1,733.6 293.6,725.8 C298.1,718.0 301.9,710.6 306.0,703.6 C310.1,696.6 313.8,690.1 318.3,683.9 C322.8,677.7 328.4,672.0 333.1,666.6 C337.8,661.2 344.4,654.3 346.7,651.8" fill="none" stroke="#303030" stroke-width="2.6" stroke-linejoin="round" stroke-linecap="round" />
<path d="M313.8,620.3 C310.9,622.8 302.0,630.1 296.1,635.2 C290.2,640.4 285.0,644.7 278.7,651.2 C272.4,657.8 264.8,666.2 258.2,674.5" fill="none" stroke="#303030" stroke-width="3.7" stroke-linejoin="round" stroke-linecap="round" />
<path d="M258.2,674.5 C251.6,682.8 245.8,691.1 239.2,701.1 C232.6,711.1 224.5,723.9 218.5,734.2" fill="none" stroke="#303030" stroke-width="3.3" stroke-linejoin="round" stroke-linecap="round" />
<path d="M218.5,734.2 C212.5,744.6 205.8,758.4 203.3,763.2" fill="none" stroke="#303030" stroke-width="2.7" stroke-linejoin="round" stroke-linecap="round" />
<path d="M380.2,627.5 C381.3,630.0 385.3,636.8 387.0,642.2 C388.7,647.6 389.8,653.9 390.5,659.7 C391.2,665.5 391.4,671.6 391.4,677.0 C391.3,682.4 390.4,689.5 390.2,692.0" fill="none" stroke="#303030" stroke-width="2.6" stroke-linejoin="round" stroke-linecap="round" />
<path d="M366.4,650.3 C367.4,652.2 371.0,657.1 372.2,661.9 C373.4,666.7 374.0,671.2 373.7,679.3 C373.4,687.4 372.1,702.7 370.6,710.3 C369.1,717.9 366.9,720.3 364.8,724.8 C362.7,729.2 359.1,735.0 358.0,737.0" fill="none" stroke="#303030" stroke-width="1.4" stroke-linejoin="round" stroke-linecap="round" />
<defs><clipPath id="eyeclip"><ellipse cx="203.6" cy="370.8" rx="21" ry="37.3" transform="rotate(-2 203.6 370.8)"/></clipPath><clipPath id="pc"><rect x="0" y="0" width="689" height="365.6"/></clipPath><clipPath id="cc"><rect x="0" y="0" width="689" height="324.9"/></clipPath><clipPath id="mc"><rect x="0" y="0" width="689" height="418.7"/></clipPath></defs>
<ellipse cx="203.6" cy="370.8" rx="21" ry="37.3" transform="rotate(-2 203.6 370.8)" fill="#fff"/>
<path d="M175.0,350.0 C176.8,350.4 183.0,352.4 186.0,352.5 C189.0,352.6 190.9,350.4 193.2,350.8 C195.5,351.2 198.4,352.9 199.8,354.8 C201.2,356.7 201.5,359.9 201.4,362.1 C201.3,364.3 199.8,366.5 199.0,367.9 C198.2,369.3 197.2,369.9 196.9,370.3 C197.5,370.6 199.3,371.1 200.5,372.2 C201.7,373.3 203.5,374.8 204.1,377.0 C204.7,379.2 204.8,382.5 204.3,385.3 C203.8,388.1 202.6,391.8 201.2,394.0 C199.8,396.2 198.0,397.2 196.1,398.4 C194.2,399.6 193.5,399.9 190.0,401.0 C186.5,402.1 177.5,404.3 175.0,405.0 C175.0,395.8 175.0,359.2 175.0,350.0 Z" fill="#323232" clip-path="url(#eyeclip)"/>
<ellipse cx="203.6" cy="370.8" rx="21" ry="37.3" transform="rotate(-2 203.6 370.8)" fill="none" stroke="#303030" stroke-width="2.6"/>
<path d="M396.3,340.7 C398.6,339.0 405.2,332.4 409.9,330.3 C414.6,328.2 419.5,327.9 424.3,328.4 C429.1,328.9 434.6,330.5 438.6,333.5 C442.6,336.5 446.1,341.8 448.2,346.3 C450.3,350.8 450.9,358.3 451.4,360.7" fill="none" stroke="#303030" stroke-width="1.7" stroke-linejoin="round" stroke-linecap="round" />
<path d="M451.4,360.7 C450.9,363.4 450.3,371.6 448.2,376.6 C446.1,381.7 442.9,386.7 438.6,391.0 C434.4,395.3 428.8,399.7 422.7,402.2 C416.6,404.7 407.3,405.7 401.9,406.2 C396.4,406.7 392.0,405.5 390.0,405.4" fill="none" stroke="#303030" stroke-width="2.6" stroke-linejoin="round" stroke-linecap="round" />
<path d="M405.9,354.8 C407.1,353.9 410.0,350.9 413.0,349.5 C416.0,348.1 419.7,347.1 424.0,346.3 C428.3,345.5 436.2,345.0 438.6,344.7" fill="none" stroke="#303030" stroke-width="3.0" stroke-linejoin="round" stroke-linecap="round" />
<path d="M419.5,348.0 C420.4,349.9 424.0,355.7 425.1,359.1 C426.2,362.5 426.6,365.2 425.9,368.6 C425.2,372.1 423.5,377.0 421.1,379.8 C418.7,382.6 414.3,384.1 411.5,385.4 C408.7,386.7 405.5,387.1 404.3,387.5" fill="none" stroke="#303030" stroke-width="2.0" stroke-linejoin="round" stroke-linecap="round" />
<text x="193.0" y="433.4" font-family="'Liberation Sans', sans-serif" font-size="11.5" font-weight="normal" font-style="normal" fill="#111" text-anchor="start" textLength="154.2" lengthAdjust="spacingAndGlyphs" stroke="#111" stroke-width="0.25">Eye movement = 230 | 70 ~ 700| msec</text>
<path d="M248.3,232.2 L270.9,248 L264.3,249.5 Q271,290.8 292.5,333 L296,345 L278,348 L274.7,335 Q253,298.8 242.6,254.2 L232.3,255.2 Z" fill="#fff" stroke="#303030" stroke-width="1.2" stroke-linejoin="round" stroke-linecap="round" />
<path d="M314.3,232.9 C317.9,236.2 332.4,249.2 336.0,252.4 C334.1,252.6 326.6,253.2 324.7,253.3 C324.9,258.0 324.9,272.2 325.7,281.6 C326.5,291.0 328.1,301.7 329.4,309.9 C330.6,318.1 332.4,324.8 333.2,330.7 C334.0,336.6 333.9,342.6 334.0,345.0 C330.6,345.0 316.9,345.0 313.5,345.0 C313.5,342.6 313.9,336.6 313.4,330.7 C312.9,324.8 311.9,318.1 310.6,309.9 C309.3,301.7 306.9,291.0 305.8,281.6 C304.7,272.2 304.3,258.0 304.0,253.3 C302.6,253.3 296.9,253.3 295.5,253.3 C298.6,249.9 311.2,236.3 314.3,232.9 Z" fill="#fff" stroke="none" stroke-width="0" stroke-linejoin="round" stroke-linecap="round" />
<path d="M314.3,232.9 C317.9,236.2 332.4,249.2 336.0,252.4 C334.1,252.6 326.6,253.2 324.7,253.3 C324.9,258.0 324.9,272.2 325.7,281.6 C326.5,291.0 328.1,301.7 329.4,309.9 C330.6,318.1 332.4,324.8 333.2,330.7 C334.0,336.6 333.9,342.6 334.0,345.0 C330.6,345.0 316.9,345.0 313.5,345.0 C313.5,342.6 313.9,336.6 313.4,330.7 C312.9,324.8 311.9,318.1 310.6,309.9 C309.3,301.7 306.9,291.0 305.8,281.6 C304.7,272.2 304.3,258.0 304.0,253.3 C302.6,253.3 296.9,253.3 295.5,253.3 C298.6,249.9 311.2,236.3 314.3,232.9 Z" fill="none" stroke="#303030" stroke-width="1.2" stroke-linejoin="round" stroke-linecap="round" />
<path d="M488.3,237.8 C491.1,241.5 502.5,256.3 505.3,260.0 C503.8,259.9 497.6,259.2 496.1,259.1 C495.8,260.5 494.5,264.1 494.2,267.2 C493.9,270.3 493.8,273.7 494.2,277.6 C494.6,281.5 495.9,287.2 496.8,290.7 C497.7,294.2 498.9,295.6 499.4,298.5 C499.9,301.4 499.9,306.4 500.0,308.0 C496.5,308.0 482.5,308.0 479.0,308.0 C478.9,306.0 479.1,300.5 478.5,295.9 C477.9,291.3 475.8,285.0 475.2,280.2 C474.6,275.4 474.5,271.2 474.6,267.2 C474.7,263.2 475.7,258.0 475.9,256.1 C474.3,255.9 467.7,255.0 466.1,254.8 C469.8,252.0 484.6,240.6 488.3,237.8 Z" fill="#fff" stroke="none" stroke-width="0" stroke-linejoin="round" stroke-linecap="round" />
<path d="M488.3,237.8 C491.1,241.5 502.5,256.3 505.3,260.0 C503.8,259.9 497.6,259.2 496.1,259.1 C495.8,260.5 494.5,264.1 494.2,267.2 C493.9,270.3 493.8,273.7 494.2,277.6 C494.6,281.5 495.9,287.2 496.8,290.7 C497.7,294.2 498.9,295.6 499.4,298.5 C499.9,301.4 499.9,306.4 500.0,308.0 C496.5,308.0 482.5,308.0 479.0,308.0 C478.9,306.0 479.1,300.5 478.5,295.9 C477.9,291.3 475.8,285.0 475.2,280.2 C474.6,275.4 474.5,271.2 474.6,267.2 C474.7,263.2 475.7,258.0 475.9,256.1 C474.3,255.9 467.7,255.0 466.1,254.8 C469.8,252.0 484.6,240.6 488.3,237.8 Z" fill="none" stroke="#303030" stroke-width="1.2" stroke-linejoin="round" stroke-linecap="round" />
<path d="M515.0,438.0 C514.6,439.9 515.0,443.6 512.4,449.2 C509.8,454.8 504.9,464.6 499.6,471.5 C494.3,478.4 487.9,484.8 480.5,490.7 C473.1,496.6 463.9,501.8 454.9,506.6 C445.8,511.4 435.8,514.6 426.2,519.4 C416.6,524.2 406.0,529.5 397.5,535.4 C389.0,541.2 381.2,547.6 375.1,554.5 C369.0,561.4 364.8,569.4 360.8,576.9 C356.8,584.4 353.2,591.2 351.0,599.2 C348.8,607.2 348.4,616.4 347.5,624.7 C346.6,633.1 346.1,641.1 345.4,649.3 C344.6,657.5 344.2,665.8 343.0,674.0 C341.8,682.2 340.1,690.9 338.0,698.7 C335.9,706.5 333.5,713.9 330.6,720.9 C327.7,727.9 324.5,734.0 320.8,740.6 C317.1,747.2 312.7,754.0 308.4,760.4 C304.1,766.8 299.2,773.7 295.0,779.0 C290.8,784.3 287.4,788.0 283.0,792.0 C278.6,796.0 273.4,800.6 268.6,803.0 C263.8,805.4 259.4,806.8 254.0,806.5 C248.6,806.2 242.9,803.6 236.1,801.0 C229.2,798.4 220.6,795.0 212.9,791.0 C205.2,787.0 197.8,782.1 189.7,777.0 C181.6,771.9 168.4,763.0 164.1,760.2 C165.1,758.9 168.9,753.5 169.9,752.1 C165.4,752.9 147.6,755.9 143.2,756.7 C144.0,761.2 147.1,779.0 147.9,783.4 C148.7,782.4 151.7,778.6 152.5,777.6 C154.8,779.1 160.2,783.2 166.4,786.9 C172.6,790.6 181.9,795.2 189.7,799.7 C197.4,804.2 205.2,809.7 212.9,813.6 C220.6,817.5 229.1,820.6 236.1,822.9 C243.1,825.2 248.9,827.2 254.7,827.5 C260.5,827.8 265.9,826.1 271.0,824.5 C276.1,822.9 279.9,821.1 285.0,818.0 C290.1,814.9 295.2,813.2 301.9,805.8 C308.6,798.4 317.8,785.4 325.1,773.8 C332.4,762.2 340.0,747.6 345.5,736.1 C351.0,724.6 354.9,716.0 358.0,705.0 C361.1,694.0 362.8,679.2 364.3,670.0 C365.8,660.8 366.4,657.0 367.0,650.0 C367.6,643.0 367.6,634.9 368.1,628.0 C368.7,621.1 369.1,615.7 370.3,608.8 C371.5,601.9 372.7,593.3 375.1,586.4 C377.5,579.5 379.9,573.1 384.7,567.3 C389.5,561.4 396.4,556.1 403.9,551.3 C411.3,546.5 419.8,543.4 429.4,538.6 C439.0,533.8 451.7,527.9 461.3,522.6 C470.9,517.3 478.4,512.5 486.9,506.6 C495.4,500.8 504.9,493.9 512.4,487.5 C519.9,481.1 526.8,474.2 531.6,468.3 C536.4,462.4 539.0,456.8 541.2,452.4 C543.4,448.0 544.4,443.7 545.0,442.0 C540.0,441.3 520.0,438.7 515.0,438.0 Z" fill="#fff" stroke="none" stroke-width="0" stroke-linejoin="round" stroke-linecap="round" />
<path d="M515.0,438.0 C514.6,439.9 515.0,443.6 512.4,449.2 C509.8,454.8 504.9,464.6 499.6,471.5 C494.3,478.4 487.9,484.8 480.5,490.7 C473.1,496.6 463.9,501.8 454.9,506.6 C445.8,511.4 435.8,514.6 426.2,519.4 C416.6,524.2 406.0,529.5 397.5,535.4 C389.0,541.2 381.2,547.6 375.1,554.5 C369.0,561.4 364.8,569.4 360.8,576.9 C356.8,584.4 353.2,591.2 351.0,599.2 C348.8,607.2 348.4,616.4 347.5,624.7 C346.6,633.1 346.1,641.1 345.4,649.3 C344.6,657.5 344.2,665.8 343.0,674.0 C341.8,682.2 340.1,690.9 338.0,698.7 C335.9,706.5 333.5,713.9 330.6,720.9 C327.7,727.9 324.5,734.0 320.8,740.6 C317.1,747.2 312.7,754.0 308.4,760.4 C304.1,766.8 299.2,773.7 295.0,779.0 C290.8,784.3 287.4,788.0 283.0,792.0 C278.6,796.0 273.4,800.6 268.6,803.0 C263.8,805.4 259.4,806.8 254.0,806.5 C248.6,806.2 242.9,803.6 236.1,801.0 C229.2,798.4 220.6,795.0 212.9,791.0 C205.2,787.0 197.8,782.1 189.7,777.0 C181.6,771.9 168.4,763.0 164.1,760.2 C165.1,758.9 168.9,753.5 169.9,752.1 C165.4,752.9 147.6,755.9 143.2,756.7 C144.0,761.2 147.1,779.0 147.9,783.4 C148.7,782.4 151.7,778.6 152.5,777.6 C154.8,779.1 160.2,783.2 166.4,786.9 C172.6,790.6 181.9,795.2 189.7,799.7 C197.4,804.2 205.2,809.7 212.9,813.6 C220.6,817.5 229.1,820.6 236.1,822.9 C243.1,825.2 248.9,827.2 254.7,827.5 C260.5,827.8 265.9,826.1 271.0,824.5 C276.1,822.9 279.9,821.1 285.0,818.0 C290.1,814.9 295.2,813.2 301.9,805.8 C308.6,798.4 317.8,785.4 325.1,773.8 C332.4,762.2 340.0,747.6 345.5,736.1 C351.0,724.6 354.9,716.0 358.0,705.0 C361.1,694.0 362.8,679.2 364.3,670.0 C365.8,660.8 366.4,657.0 367.0,650.0 C367.6,643.0 367.6,634.9 368.1,628.0 C368.7,621.1 369.1,615.7 370.3,608.8 C371.5,601.9 372.7,593.3 375.1,586.4 C377.5,579.5 379.9,573.1 384.7,567.3 C389.5,561.4 396.4,556.1 403.9,551.3 C411.3,546.5 419.8,543.4 429.4,538.6 C439.0,533.8 451.7,527.9 461.3,522.6 C470.9,517.3 478.4,512.5 486.9,506.6 C495.4,500.8 504.9,493.9 512.4,487.5 C519.9,481.1 526.8,474.2 531.6,468.3 C536.4,462.4 539.0,456.8 541.2,452.4 C543.4,448.0 544.4,443.7 545.0,442.0 C540.0,441.3 520.0,438.7 515.0,438.0 Z" fill="none" stroke="#303030" stroke-width="1.2" stroke-linejoin="round" stroke-linecap="round" />
<ellipse cx="314.5" cy="367.3" rx="62.3" ry="34.3" fill="#fff" stroke="#303030" stroke-width="1.5"/>
<ellipse cx="314.5" cy="367.3" rx="62.3" ry="34.3" fill="#323232" stroke="#323232" stroke-width="1.5" clip-path="url(#pc)"/>
<ellipse cx="522.7" cy="325.9" rx="61.5" ry="34.8" fill="#fff" stroke="#303030" stroke-width="1.5"/>
<ellipse cx="522.7" cy="325.9" rx="61.5" ry="34.8" fill="#323232" stroke="#323232" stroke-width="1.5" clip-path="url(#cc)"/>
<ellipse cx="564.5" cy="418.4" rx="61.0" ry="34.2" fill="#fff" stroke="#303030" stroke-width="1.5"/>
<ellipse cx="564.5" cy="418.4" rx="61.0" ry="34.2" fill="#323232" stroke="#323232" stroke-width="1.5" clip-path="url(#mc)"/>
<text x="281.6" y="349.0" font-family="'Liberation Sans', sans-serif" font-size="12.3" font-weight="bold" font-style="normal" fill="#fff" text-anchor="start" textLength="63.0" lengthAdjust="spacingAndGlyphs" >Perceptual</text>
<text x="282.6" y="361.6" font-family="'Liberation Sans', sans-serif" font-size="12.3" font-weight="bold" font-style="normal" fill="#fff" text-anchor="start" textLength="59.9" lengthAdjust="spacingAndGlyphs" >Processor</text>
<text x="265.0" y="380.9" font-family="'Liberation Serif', serif" font-size="13.0" font-weight="normal" font-style="italic" fill="#262626" text-anchor="start" >τ</text>
<text x="270.2" y="383.9" font-family="'Liberation Sans', sans-serif" font-size="8.2" font-weight="bold" font-style="normal" fill="#262626" text-anchor="start" textLength="5.6" lengthAdjust="spacingAndGlyphs" >P</text>
<text x="280.0" y="380.6" font-family="'Liberation Sans', sans-serif" font-size="9.5" font-weight="normal" font-style="normal" fill="#555" text-anchor="start" textLength="7.0" lengthAdjust="spacingAndGlyphs" >=</text>
<text x="290.7" y="380.9" font-family="'Liberation Sans', sans-serif" font-size="11.0" font-weight="bold" font-style="normal" fill="#262626" text-anchor="start" textLength="15.3" lengthAdjust="spacingAndGlyphs" >100</text>
<path d="M313.8,370.9 L312.0,370.9 L312.0,384.2 L313.8,384.2" fill="none" stroke="#444" stroke-width="0.8" stroke-linejoin="round" stroke-linecap="round" stroke-linecap="butt" stroke-linejoin="miter"/>
<text x="315.0" y="380.9" font-family="'Liberation Sans', sans-serif" font-size="11.0" fill="#262626" stroke="#262626" stroke-width="0.35" textLength="40.0" lengthAdjust="spacingAndGlyphs">50 <tspan font-size="15" dy="2.0">~</tspan><tspan dy="-2.0"> 200</tspan></text>
<path d="M358.0,370.9 L359.8,370.9 L359.8,384.2 L358.0,384.2" fill="none" stroke="#444" stroke-width="0.8" stroke-linejoin="round" stroke-linecap="round" stroke-linecap="butt" stroke-linejoin="miter"/>
<text x="299.5" y="392.0" font-family="'Liberation Sans', sans-serif" font-size="10.4" font-weight="bold" font-style="normal" fill="#262626" text-anchor="start" textLength="23.7" lengthAdjust="spacingAndGlyphs" >msec</text>
<text x="492.5" y="307.9" font-family="'Liberation Sans', sans-serif" font-size="12.3" font-weight="bold" font-style="normal" fill="#fff" text-anchor="start" textLength="57.1" lengthAdjust="spacingAndGlyphs" >Cognitive</text>
<text x="491.1" y="320.6" font-family="'Liberation Sans', sans-serif" font-size="12.3" font-weight="bold" font-style="normal" fill="#fff" text-anchor="start" textLength="60.4" lengthAdjust="spacingAndGlyphs" >Processor</text>
<text x="473.0" y="340.6" font-family="'Liberation Serif', serif" font-size="13.0" font-weight="normal" font-style="italic" fill="#262626" text-anchor="start" >τ</text>
<text x="478.9" y="343.6" font-family="'Liberation Sans', sans-serif" font-size="8.2" font-weight="bold" font-style="normal" fill="#262626" text-anchor="start" textLength="4.7" lengthAdjust="spacingAndGlyphs" >C</text>
<text x="487.4" y="340.3" font-family="'Liberation Sans', sans-serif" font-size="9.5" font-weight="normal" font-style="normal" fill="#555" text-anchor="start" textLength="6.6" lengthAdjust="spacingAndGlyphs" >=</text>
<text x="501.5" y="340.6" font-family="'Liberation Sans', sans-serif" font-size="11.0" font-weight="bold" font-style="normal" fill="#262626" text-anchor="start" textLength="10.4" lengthAdjust="spacingAndGlyphs" >70</text>
<path d="M523.1,330.6 L521.3,330.6 L521.3,343.9 L523.1,343.9" fill="none" stroke="#444" stroke-width="0.8" stroke-linejoin="round" stroke-linecap="round" stroke-linecap="butt" stroke-linejoin="miter"/>
<text x="524.2" y="340.6" font-family="'Liberation Sans', sans-serif" font-size="11.0" fill="#262626" stroke="#262626" stroke-width="0.35" textLength="39.2" lengthAdjust="spacingAndGlyphs">25 <tspan font-size="15" dy="2.0">~</tspan><tspan dy="-2.0"> 170</tspan></text>
<path d="M565.4,330.6 L567.2,330.6 L567.2,343.9 L565.4,343.9" fill="none" stroke="#444" stroke-width="0.8" stroke-linejoin="round" stroke-linecap="round" stroke-linecap="butt" stroke-linejoin="miter"/>
<text x="508.1" y="351.3" font-family="'Liberation Sans', sans-serif" font-size="10.4" font-weight="bold" font-style="normal" fill="#262626" text-anchor="start" textLength="24.5" lengthAdjust="spacingAndGlyphs" >msec</text>
<text x="547.2" y="401.7" font-family="'Liberation Sans', sans-serif" font-size="12.3" font-weight="bold" font-style="normal" fill="#fff" text-anchor="start" textLength="33.6" lengthAdjust="spacingAndGlyphs" >Motor</text>
<text x="534.0" y="414.3" font-family="'Liberation Sans', sans-serif" font-size="12.3" font-weight="bold" font-style="normal" fill="#fff" text-anchor="start" textLength="59.4" lengthAdjust="spacingAndGlyphs" >Processor</text>
<text x="515.8" y="433.4" font-family="'Liberation Serif', serif" font-size="13.0" font-weight="normal" font-style="italic" fill="#262626" text-anchor="start" >τ</text>
<text x="521.7" y="436.4" font-family="'Liberation Sans', sans-serif" font-size="8.2" font-weight="bold" font-style="normal" fill="#262626" text-anchor="start" textLength="6.6" lengthAdjust="spacingAndGlyphs" >M</text>
<text x="533.0" y="433.1" font-family="'Liberation Sans', sans-serif" font-size="9.5" font-weight="normal" font-style="normal" fill="#555" text-anchor="start" textLength="5.7" lengthAdjust="spacingAndGlyphs" >=</text>
<text x="546.2" y="433.4" font-family="'Liberation Sans', sans-serif" font-size="11.0" font-weight="bold" font-style="normal" fill="#262626" text-anchor="start" textLength="10.4" lengthAdjust="spacingAndGlyphs" >70</text>
<path d="M566.0,423.4 L564.2,423.4 L564.2,436.7 L566.0,436.7" fill="none" stroke="#444" stroke-width="0.8" stroke-linejoin="round" stroke-linecap="round" stroke-linecap="butt" stroke-linejoin="miter"/>
<text x="567.0" y="433.4" font-family="'Liberation Sans', sans-serif" font-size="11.0" fill="#262626" stroke="#262626" stroke-width="0.35" textLength="37.7" lengthAdjust="spacingAndGlyphs">30 <tspan font-size="15" dy="2.0">~</tspan><tspan dy="-2.0"> 100</tspan></text>
<path d="M607.2,423.4 L609.0,423.4 L609.0,436.7 L607.2,436.7" fill="none" stroke="#444" stroke-width="0.8" stroke-linejoin="round" stroke-linecap="round" stroke-linecap="butt" stroke-linejoin="miter"/>
<text x="552.8" y="447.0" font-family="'Liberation Sans', sans-serif" font-size="10.4" font-weight="bold" font-style="normal" fill="#262626" text-anchor="start" textLength="23.6" lengthAdjust="spacingAndGlyphs" >msec</text>
<path d="M537.3,247.0 C537.3,247.8 537.3,249.7 537.2,252.0 C537.1,254.3 537.9,257.1 536.6,260.7 C535.3,264.3 530.7,271.5 529.5,273.7 C527.8,273.7 520.8,273.5 519.0,273.5 C521.5,277.2 531.6,292.2 534.1,295.9 C538.4,293.8 555.7,285.1 560.0,283.0 C558.1,282.5 550.4,280.5 548.5,280.0 C549.2,278.5 551.5,273.9 553.0,271.0 C554.5,268.1 556.5,265.7 557.2,262.5 C557.9,259.3 557.4,254.6 557.4,252.0 C557.4,249.4 557.4,247.8 557.4,247.0 C554.0,247.0 540.6,247.0 537.3,247.0 Z" fill="#fff" stroke="none" stroke-width="0" stroke-linejoin="round" stroke-linecap="round" />
<path d="M537.3,247.0 C537.3,247.8 537.3,249.7 537.2,252.0 C537.1,254.3 537.9,257.1 536.6,260.7 C535.3,264.3 530.7,271.5 529.5,273.7 C527.8,273.7 520.8,273.5 519.0,273.5 C521.5,277.2 531.6,292.2 534.1,295.9 C538.4,293.8 555.7,285.1 560.0,283.0 C558.1,282.5 550.4,280.5 548.5,280.0 C549.2,278.5 551.5,273.9 553.0,271.0 C554.5,268.1 556.5,265.7 557.2,262.5 C557.9,259.3 557.4,254.6 557.4,252.0 C557.4,249.4 557.4,247.8 557.4,247.0" fill="none" stroke="#303030" stroke-width="1.2" stroke-linejoin="round" stroke-linecap="round" />
<path d="M578.7,262.0 C578.3,263.4 577.5,267.4 576.3,270.1 C575.1,272.8 573.4,275.6 571.7,278.2 C570.0,280.8 566.9,284.5 565.9,285.8 C564.9,285.3 561.1,283.4 560.1,282.9 C561.0,286.8 564.4,302.2 565.3,306.1 C569.8,305.3 588.0,302.2 592.6,301.4 C591.4,300.5 586.4,297.1 585.1,296.2 C586.1,294.2 589.6,288.0 591.4,284.0 C593.2,280.0 594.8,276.1 596.1,272.4 C597.4,268.7 598.5,263.7 599.0,262.0 C595.6,262.0 582.1,262.0 578.7,262.0 Z" fill="#fff" stroke="none" stroke-width="0" stroke-linejoin="round" stroke-linecap="round" />
<path d="M578.7,262.0 C578.3,263.4 577.5,267.4 576.3,270.1 C575.1,272.8 573.4,275.6 571.7,278.2 C570.0,280.8 566.9,284.5 565.9,285.8 C564.9,285.3 561.1,283.4 560.1,282.9 C561.0,286.8 564.4,302.2 565.3,306.1 C569.8,305.3 588.0,302.2 592.6,301.4 C591.4,300.5 586.4,297.1 585.1,296.2 C586.1,294.2 589.6,288.0 591.4,284.0 C593.2,280.0 594.8,276.1 596.1,272.4 C597.4,268.7 598.5,263.7 599.0,262.0" fill="none" stroke="#303030" stroke-width="1.2" stroke-linejoin="round" stroke-linecap="round" />
<path d="M617.0,247.0 C616.8,249.8 616.3,257.4 616.0,263.9 C615.7,270.4 615.9,278.3 615.1,286.0 C614.4,293.7 613.2,302.2 611.5,309.9 C609.8,317.5 607.5,324.5 605.0,331.9 C602.5,339.2 599.4,347.9 596.8,354.0 C594.2,360.1 591.2,365.6 589.4,368.7 C587.5,371.8 586.3,371.8 585.7,372.4 C584.0,371.9 577.3,370.1 575.6,369.6 C577.5,373.6 584.9,389.5 586.7,393.5 C591.1,392.0 608.9,385.8 613.3,384.3 C611.9,383.8 606.4,382.0 605.0,381.5 C606.7,377.8 611.9,366.9 615.1,359.5 C618.3,352.1 621.4,345.1 624.3,337.4 C627.2,329.7 630.6,322.1 632.6,313.5 C634.6,304.9 635.6,294.3 636.3,286.0 C637.0,277.7 636.6,270.4 636.8,263.9 C636.9,257.4 637.1,249.8 637.2,247.0 C633.8,247.0 620.4,247.0 617.0,247.0 Z" fill="#fff" stroke="none" stroke-width="0" stroke-linejoin="round" stroke-linecap="round" />
<path d="M617.0,247.0 C616.8,249.8 616.3,257.4 616.0,263.9 C615.7,270.4 615.9,278.3 615.1,286.0 C614.4,293.7 613.2,302.2 611.5,309.9 C609.8,317.5 607.5,324.5 605.0,331.9 C602.5,339.2 599.4,347.9 596.8,354.0 C594.2,360.1 591.2,365.6 589.4,368.7 C587.5,371.8 586.3,371.8 585.7,372.4 C584.0,371.9 577.3,370.1 575.6,369.6 C577.5,373.6 584.9,389.5 586.7,393.5 C591.1,392.0 608.9,385.8 613.3,384.3 C611.9,383.8 606.4,382.0 605.0,381.5 C606.7,377.8 611.9,366.9 615.1,359.5 C618.3,352.1 621.4,345.1 624.3,337.4 C627.2,329.7 630.6,322.1 632.6,313.5 C634.6,304.9 635.6,294.3 636.3,286.0 C637.0,277.7 636.6,270.4 636.8,263.9 C636.9,257.4 637.1,249.8 637.2,247.0" fill="none" stroke="#303030" stroke-width="1.2" stroke-linejoin="round" stroke-linecap="round" />
<path d="M231.0,356.3 L239.7,356.3 L239.7,346.9 L258.5,365.5 L239.7,385.3 L239.7,375.9 L231.0,375.9 Z" fill="#fff" stroke="#303030" stroke-width="1.2" stroke-linejoin="round" stroke-linecap="round" />
<path d="M395.5,355.1 L387.6,355.1 L387.6,347.1 L370.0,365.5 L387.6,386.2 L387.6,376.6 L395.5,376.6 Z" fill="#fff" stroke="#303030" stroke-width="1.2" stroke-linejoin="round" stroke-linecap="round" />
</svg>
</body></html>
